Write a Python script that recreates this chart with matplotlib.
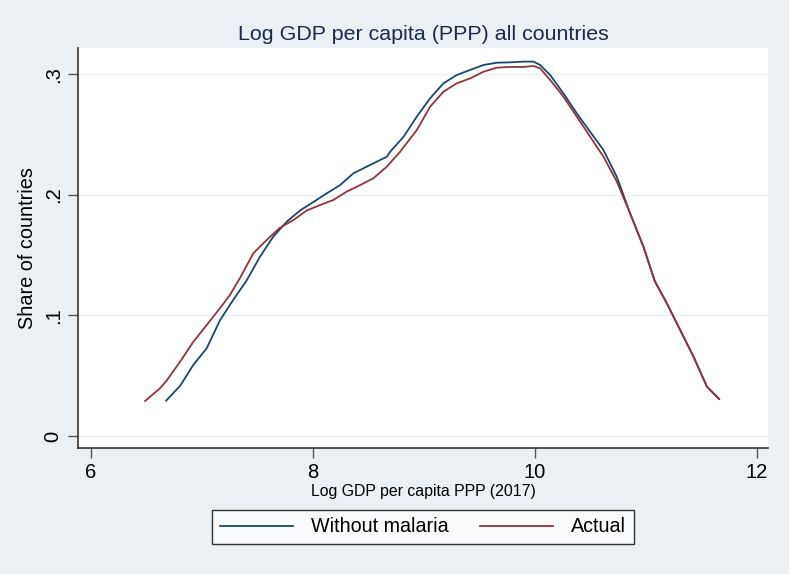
import matplotlib
matplotlib.use("Agg")
import matplotlib.pyplot as plt

plt.rcParams['font.family'] = ['Liberation Sans', 'DejaVu Sans']

# Without malaria (blue)
x_without = [6.68, 6.805, 6.924, 7.045, 7.165, 7.285, 7.405, 7.525, 7.645, 7.766, 7.886,
             8.006, 8.126, 8.246, 8.366, 8.486, 8.606, 8.667, 8.697, 8.817, 8.937, 9.057,
             9.177, 9.297, 9.417, 9.537, 9.658, 9.778, 9.898, 9.988, 10.048, 10.138,
             10.258, 10.378, 10.498, 10.618, 10.738, 10.858, 10.978, 11.08, 11.189,
             11.309, 11.429, 11.55, 11.66]
y_without = [0.0293, 0.0415, 0.0589, 0.0727, 0.096, 0.113, 0.129, 0.1487, 0.1653, 0.1777,
             0.187, 0.194, 0.2012, 0.208, 0.2178, 0.2233, 0.2288, 0.2315, 0.2357, 0.248,
             0.2648, 0.280, 0.2924, 0.2993, 0.3035, 0.3076, 0.3095, 0.3098, 0.3104, 0.3104,
             0.3076, 0.2993, 0.284, 0.2675, 0.2523, 0.2371, 0.215, 0.1846, 0.157, 0.1285,
             0.11, 0.0879, 0.0658, 0.0409, 0.0307]

# Actual (red)
x_actual = [6.49, 6.624, 6.685, 6.805, 6.924, 7.045, 7.165, 7.255, 7.345, 7.465, 7.585,
            7.705, 7.825, 7.946, 8.066, 8.186, 8.306, 8.426, 8.546, 8.667, 8.787, 8.937,
            9.057, 9.177, 9.297, 9.417, 9.537, 9.658, 9.778, 9.898, 9.988, 10.048, 10.138,
            10.258, 10.378, 10.498, 10.618, 10.738, 10.858, 10.978, 11.08, 11.189, 11.309,
            11.429, 11.55, 11.66]
y_actual = [0.029, 0.0395, 0.046, 0.0616, 0.078, 0.092, 0.106, 0.117, 0.131, 0.1515, 0.1625,
            0.1727, 0.179, 0.187, 0.1915, 0.1957, 0.2026, 0.208, 0.2137, 0.2233, 0.2357,
            0.2537, 0.273, 0.2855, 0.2924, 0.2965, 0.302, 0.3054, 0.306, 0.306, 0.3068,
            0.3048, 0.2952, 0.2813, 0.2648, 0.2482, 0.2316, 0.211, 0.1846, 0.157, 0.1285,
            0.11, 0.0879, 0.0658, 0.0409, 0.0307]

x_ticks = [6, 8, 10, 12]
y_ticks = [0, 0.1, 0.2, 0.3]
y_ticklabels = ['0', '.1', '.2', '.3']

bg = '#eaf0f4'
blue = '#1a476f'
red = '#90353b'

fig = plt.figure(figsize=(7.89, 5.74), dpi=100, facecolor=bg)
ax = fig.add_axes([78/789, 1 - 448/574, 690/789, 400/574])
ax.set_facecolor('white')

ax.plot(x_without, y_without, color=blue, lw=1.3, label='Without malaria')
ax.plot(x_actual, y_actual, color=red, lw=1.3, label='Actual')

ax.set_xlim(5.886, 12.1)
ax.set_ylim(-0.00995, 0.3217)
ax.set_xticks(x_ticks)
ax.set_yticks(y_ticks)
ax.set_yticklabels(y_ticklabels, rotation=90, va='center')
ax.tick_params(axis='both', direction='out', length=7, width=1.0, color='#555555',
               labelsize=14.5, labelcolor='black')
ax.tick_params(axis='y', pad=4)
ax.tick_params(axis='x', pad=4)

ax.grid(axis='y', color=bg, lw=1.0)
ax.set_axisbelow(True)
for s in ['top', 'right']:
    ax.spines[s].set_visible(False)
for s in ['left', 'bottom']:
    ax.spines[s].set_color('#333333')
    ax.spines[s].set_linewidth(1.2)

ax.set_title('Log GDP per capita (PPP) all countries', fontsize=15.4, color='#1a2a48', pad=6)
ax.set_xlabel('Log GDP per capita PPP (2017)', fontsize=11.4, labelpad=1)
ax.set_ylabel('Share of countries', fontsize=14.3, labelpad=5)

leg = fig.legend(loc='center', bbox_to_anchor=(423/789, 1 - 527/574), ncol=2,
                 frameon=True, fancybox=False, edgecolor='black', fontsize=14.2,
                 handlelength=3.7, columnspacing=1.55, handletextpad=0.95,
                 borderpad=0.4, borderaxespad=0.2)
leg.get_frame().set_linewidth(1.0)

fig.savefig('out.png', dpi=100, facecolor=bg)
